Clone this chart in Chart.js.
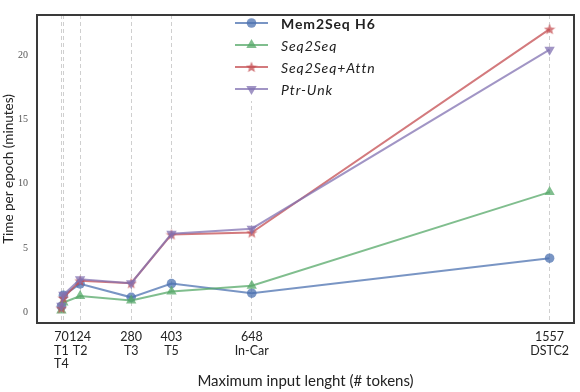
<!DOCTYPE html>
<html>
<head>
<meta charset="utf-8">
<script src="https://cdn.jsdelivr.net/npm/chart.js@4"></script>
<style>
html, body { margin:0; padding:0; background:#fff; }
#wrap { width:580px; height:392px; }
</style>
</head>
<body>
<div id="wrap"><canvas id="chart"></canvas></div>
<script>
// data
const input_len = [67, 73, 124, 280, 403, 648, 1557]
const tick_labels = [['70', 'T1', 'T4'], '', ['124', 'T2'], ['280', 'T3'], ['403', 'T5'], ['648', 'In-Car'], ['1557', 'DSTC2']]
const mem2seq_h6 = [0.45, 1.3, 2.2, 1.15, 2.22, 1.47, 4.2]
const seq2seq = [0.12, 0.75, 1.25, 0.9, 1.6, 2.05, 9.35]
const seq2seq_attn = [0.3, 1.1, 2.45, 2.25, 6.05, 6.2, 22.05]
const ptr_unk = [0.5, 1.35, 2.55, 2.25, 6.1, 6.5, 20.45]
const y_ticks = [0, 5, 10, 15, 20]

const blue = 'rgba(76,114,176,0.75)'
const green = 'rgba(85,168,104,0.75)'
const red = 'rgba(196,78,82,0.75)'
const purple = 'rgba(129,114,178,0.75)'

function starMarker(color, size){
  const c = document.createElement('canvas')
  c.width = size; c.height = size
  const g = c.getContext('2d')
  g.fillStyle = color
  g.beginPath()
  for (let i = 0; i < 10; i++){
    const r = i % 2 == 0 ? size / 2 : size / 4.6
    const a = -Math.PI / 2 + i * Math.PI / 5
    g.lineTo(size / 2 + r * Math.cos(a), size / 2 + 0.5 + r * Math.sin(a))
  }
  g.closePath()
  g.fill()
  return c
}
const star = starMarker(red, 12)

function toPoints(vals){
  return vals.map((v, i) => ({x: input_len[i], y: v}))
}

function series(label, vals, color, style, size, order, extra){
  return Object.assign({
    label: label,
    data: toPoints(vals),
    borderColor: color,
    backgroundColor: color,
    pointBackgroundColor: color,
    borderWidth: 2,
    pointStyle: style,
    pointRadius: size,
    pointBorderWidth: 0,
    order: order
  }, extra || {})
}

// legend inside the plot, then the box round it
const framePlugin = {
  id: 'frame',
  afterDraw(chart){
    const ctx = chart.ctx
    const a = chart.chartArea
    ctx.save()
    ctx.fillStyle = '#fff'
    ctx.fillRect(228, 9, 162, 92)
    const rows = [23, 45, 67, 89]
    chart.data.datasets.forEach((ds, i) => {
      const y = rows[i]
      ctx.strokeStyle = ds.borderColor
      ctx.fillStyle = ds.borderColor
      ctx.lineWidth = 2
      ctx.beginPath()
      ctx.moveTo(235, y)
      ctx.lineTo(268, y)
      ctx.stroke()
      Chart.helpers.drawPoint(ctx, {
        pointStyle: ds.pointStyle, radius: ds.pointRadius, rotation: ds.pointRotation || 0, borderWidth: 0
      }, 251.5, y)
      ctx.fillStyle = '#222'
      ctx.font = (i == 0 ? 'bold ' : 'italic ') + '14px Lato'
      ctx.letterSpacing = '0.9px'
      ctx.textBaseline = 'middle'
      ctx.fillText(ds.label, 281, y + 1)
    })
    ctx.letterSpacing = '0px'
    ctx.strokeStyle = '#3a3a3a'
    ctx.lineWidth = 2
    ctx.strokeRect(a.left, a.top, a.right - a.left, a.bottom - a.top)
    ctx.restore()
  }
}

const ctx = document.getElementById('chart')

new Chart(ctx, {
  type: 'line',
  data: {
    datasets: [
      series('Mem2Seq H6', mem2seq_h6, blue, 'circle', 4.8, 4),
      series('Seq2Seq', seq2seq, green, 'triangle', 6, 3),
      series('Seq2Seq+Attn', seq2seq_attn, red, star, 5, 2),
      series('Ptr-Unk', ptr_unk, purple, 'triangle', 6, 1, {pointRotation: 180})
    ]
  },
  options: {
    responsive: true,
    maintainAspectRatio: false,
    animation: false,
    layout: { padding: {top: 3, right: 3, left: 0, bottom: 0} },
    plugins: {
      legend: { display: false },
      tooltip: { enabled: false }
    },
    scales: {
      x: {
        type: 'linear',
        min: -7.5,
        max: 1631.5,
        afterBuildTicks: axis => { axis.ticks = input_len.map(v => ({value: v})) },
        afterFit: axis => { axis.height = 69 },
        ticks: {
          autoSkip: false,
          maxRotation: 0,
          padding: 7,
          color: '#222',
          font: {family: 'Lato', size: 12.5, lineHeight: 1.1},
          callback: (v, i) => tick_labels[i]
        },
        grid: {
          color: '#cfcfcf',
          lineWidth: 1,
          drawTicks: false,
          tickBorderDash: [4, 3]
        },
        border: { display: false, dash: [4, 3] },
        title: {
          display: true,
          text: 'Maximum input lenght (# tokens)',
          color: '#222',
          font: {family: 'Lato', size: 15},
          padding: {top: 3, bottom: 2}
        }
      },
      y: {
        min: -0.85,
        max: 23.15,
        afterBuildTicks: axis => { axis.ticks = y_ticks.map(v => ({value: v})) },
        afterFit: axis => { axis.width = 37 },
        ticks: {
          padding: 9,
          color: '#555',
          font: {family: 'Liberation Serif', size: 10}
        },
        grid: { display: false, drawTicks: false },
        border: { display: false },
        title: {
          display: true,
          text: 'Time per epoch (minutes)',
          color: '#222',
          font: {family: 'Lato', size: 13.5},
          padding: {top: 1, bottom: 0}
        }
      }
    }
  },
  plugins: [framePlugin]
})
</script>
</body>
</html>
